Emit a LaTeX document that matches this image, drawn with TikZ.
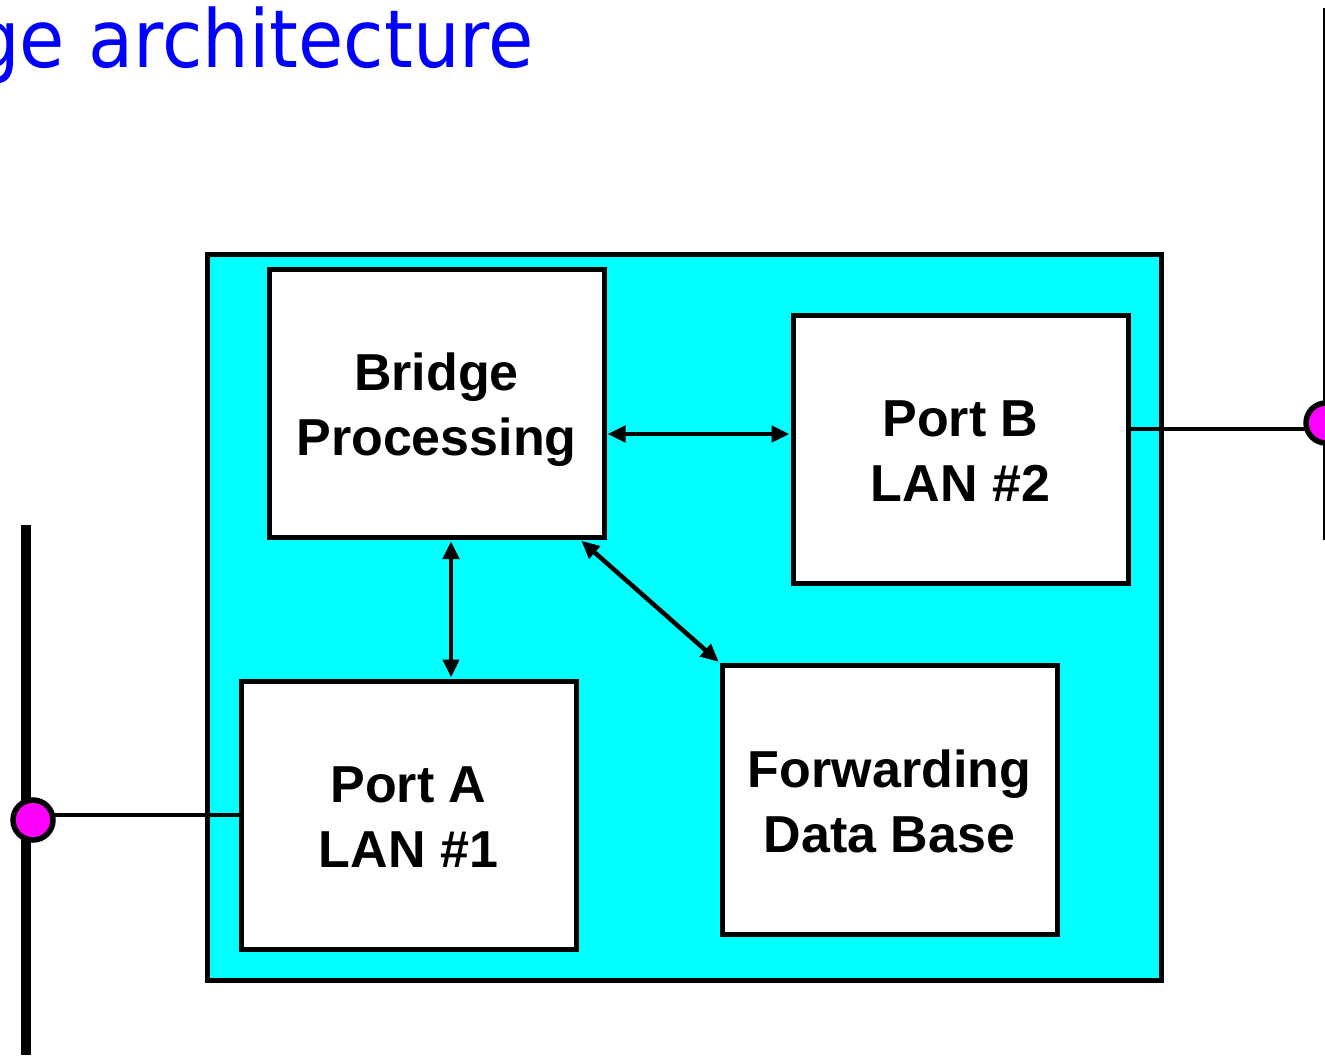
\documentclass[tikz,border=0pt]{standalone}
\usepackage{fontspec}
\setmainfont{Liberation Sans}
\newfontfamily\titlefont[FakeStretch=0.92]{DejaVu Sans}
\usetikzlibrary{arrows.meta}
\definecolor{cyanbg}{RGB}{0,255,255}
\definecolor{magentadot}{RGB}{255,0,255}
\definecolor{titleblue}{RGB}{0,0,255}
\tikzset{
  blockbox/.style={draw=black, line width=5pt, fill=white, minimum width=335pt, minimum height=268pt, inner sep=0pt},
  blocktext/.style={align=center, font=\fontsize{52}{65}\selectfont\bfseries, inner sep=0pt},
  dblarrow/.style={line width=4.5pt, {Triangle[length=18pt,width=16pt]}-{Triangle[length=18pt,width=16pt]}, shorten <=1pt, shorten >=1pt},
  wire/.style={line width=4.5pt},
  portdot/.style={circle, draw=black, fill=magentadot, line width=5.5pt, minimum size=40pt, inner sep=0pt}
}
\begin{document}
\begin{tikzpicture}[x=1pt,y=-1pt]
\useasboundingbox (0,0) rectangle (1325,1055);
% title
\node[anchor=base east, inner sep=0pt, text=titleblue, font=\titlefont\fontsize{80}{90}\selectfont] (title) at (534,67) {ge architecture};
% outer bridge box
\node[draw=black, line width=5pt, fill=cyanbg, minimum width=954pt, minimum height=726pt, inner sep=0pt] (outer) at (684,617) {};
% inner blocks
\node[blockbox] (bp) at (436.5,403.5) {};
\node[blocktext] (bpt) at ([yshift=-6pt]bp.center) {Bridge\\Processing};
\node[blockbox] (pb) at (960.5,449) {};
\node[blocktext] (pbt) at ([yshift=-2pt]pb.center) {Port B\\LAN \#2};
\node[blockbox] (pa) at (408.5,815) {};
\node[blocktext] (pat) at ([yshift=-2pt]pa.center) {Port A\\LAN \#1};
\node[blockbox, minimum height=269pt] (fdb) at (889.5,799.5) {};
\node[blocktext] (fdbt) at ([yshift=-2pt]fdb.center) {Forwarding\\Data Base};
% arrows
\coordinate (h1) at ([yshift=-30.5pt]bp.east);
\draw[dblarrow] (h1) -- (h1 -| pb.west);
\coordinate (v1) at ([xshift=14.5pt]bp.south);
\draw[dblarrow] (v1) -- (v1 |- pa.north);
\coordinate (d1) at ([xshift=-26pt]bp.south east);
\draw[dblarrow] (d1) -- (fdb.north west);
% left LAN
\coordinate (lt) at (26,525);
\coordinate (lb) at (26,1055);
\draw[line width=10pt] (lt) -- (lb);
\coordinate (ca) at (33,820);
\draw[wire] (ca |- pa.west) -- (pa.west);
\node[portdot] (dotA) at (ca) {};
% right LAN
\coordinate (rt) at (1324,8);
\coordinate (rb) at (1324,540);
\draw[line width=3pt] (rt) -- (rb);
\coordinate (cb) at (1326,423);
\coordinate (wb) at ([yshift=20pt]pb.east);
\draw[wire] (wb) -- (wb -| cb);
\node[portdot] (dotB) at (cb) {};
\end{tikzpicture}
\end{document}
